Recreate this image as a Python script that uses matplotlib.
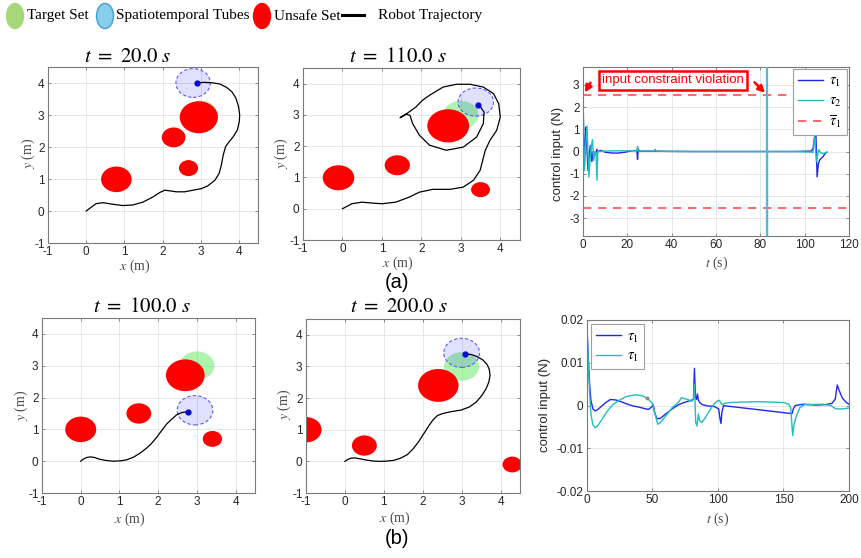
import matplotlib
matplotlib.use('Agg')
import matplotlib.pyplot as plt
from matplotlib.patches import Circle, Ellipse
from matplotlib.lines import Line2D

plt.rcParams['mathtext.fontset'] = 'stix'
plt.rcParams['font.family'] = ['Liberation Sans', 'DejaVu Sans']
plt.rcParams['axes.unicode_minus'] = False

W, H = 862, 558

# ---------------- data ----------------
target_x, target_y, target_r = 3.0, 3.0, 0.45

# (a) t = 20 s
a1_obs_x = [0.79, 2.29, 2.95, 2.68]
a1_obs_y = [0.99, 2.30, 2.93, 1.34]
a1_obs_r = [0.40, 0.31, 0.50, 0.25]
a1_tube = [2.80, 4.00, 0.45]
a1_robot = [2.89, 4.00]
a1_traj_x = [0.00, 0.26, 0.44, 0.70, 0.96, 1.23, 1.49, 1.75, 1.93, 2.06, 2.19, 2.36, 2.58, 2.80, 3.02, 3.19, 3.37,
             3.48, 3.54, 3.59, 3.65, 3.75, 3.85, 3.96, 4.01, 4.02, 3.99, 3.92, 3.82, 3.68, 3.50, 3.28, 3.06, 2.89]
a1_traj_y = [0.00, 0.23, 0.26, 0.21, 0.17, 0.19, 0.28, 0.44, 0.58, 0.65, 0.63, 0.60, 0.60, 0.65, 0.70, 0.79, 0.96,
             1.17, 1.43, 1.75, 2.01, 2.17, 2.32, 2.53, 2.80, 3.01, 3.27, 3.53, 3.72, 3.86, 3.97, 4.01, 4.02, 4.00]

# (a) t = 110 s
a2_obs_x = [-0.10, 1.39, 2.68, 3.50]
a2_obs_y = [0.99, 1.39, 2.65, 0.61]
a2_obs_r = [0.40, 0.32, 0.53, 0.24]
a2_tube = [3.38, 3.41, 0.45]
a2_robot = [3.44, 3.31]
a2_traj_x = [0.00, 0.24, 0.50, 0.75, 1.01, 1.35, 1.69, 1.95, 2.29, 2.72, 3.06, 3.32, 3.49, 3.62, 3.74, 3.91, 4.00,
             3.96, 3.83, 3.57, 3.23, 2.89, 2.55, 2.21, 2.03, 1.86, 1.65, 1.46, 1.61, 1.71, 1.78, 1.95, 2.21, 2.63,
             3.06, 3.40, 3.57, 3.59, 3.50, 3.44]
a2_traj_y = [0.00, 0.16, 0.21, 0.18, 0.16, 0.21, 0.37, 0.53, 0.62, 0.62, 0.69, 0.91, 1.23, 1.87, 2.19, 2.51, 2.93,
             3.36, 3.68, 3.89, 3.98, 3.98, 3.89, 3.63, 3.47, 3.25, 3.06, 2.91, 3.02, 2.99, 2.72, 2.35, 2.03, 1.87,
             1.97, 2.29, 2.72, 3.09, 3.25, 3.31]

# (b) t = 100 s
b1_obs_x = [0.00, 1.50, 2.70, 3.40]
b1_obs_y = [1.00, 1.50, 2.70, 0.70]
b1_obs_r = [0.40, 0.32, 0.50, 0.25]
b1_tube = [2.95, 1.60, 0.46]
b1_robot = [2.76, 1.55]
b1_traj_x = [0.00, 0.06, 0.15, 0.25, 0.36, 0.49, 0.67, 0.84, 1.02, 1.18, 1.36, 1.53, 1.70, 1.83, 1.96, 2.09, 2.22,
             2.35, 2.48, 2.61, 2.76]
b1_traj_y = [0.00, 0.06, 0.115, 0.135, 0.115, 0.06, 0.02, 0.00, 0.01, 0.04, 0.125, 0.25, 0.41, 0.56, 0.75, 0.96,
             1.17, 1.32, 1.46, 1.53, 1.55]

# (b) t = 200 s
b2_obs_x = [-1.00, 0.50, 2.40, 4.30]
b2_obs_y = [1.00, 0.50, 2.40, -0.10]
b2_obs_r = [0.40, 0.32, 0.52, 0.25]
b2_tube = [3.00, 3.43, 0.46]
b2_robot = [3.08, 3.40]
b2_traj_x = [0.00, 0.06, 0.15, 0.26, 0.39, 0.56, 0.73, 0.91, 1.08, 1.25, 1.43, 1.60, 1.75, 1.90, 2.03, 2.16, 2.27,
             2.38, 2.51, 2.72, 2.98, 3.20, 3.37, 3.52, 3.63, 3.70, 3.73, 3.71, 3.65, 3.54, 3.40, 3.24, 3.08]
b2_traj_y = [0.00, 0.05, 0.10, 0.11, 0.08, 0.04, 0.01, 0.00, 0.01, 0.03, 0.10, 0.21, 0.39, 0.63, 0.88, 1.13, 1.32,
             1.45, 1.51, 1.57, 1.62, 1.72, 1.87, 2.08, 2.30, 2.51, 2.72, 2.91, 3.07, 3.21, 3.31, 3.38, 3.40]

# control inputs, case (a)
tau_bar = 2.55
t1_a = [0, 0.3, 0.6, 1.0, 1.35, 1.8, 2.25, 2.8, 3.3, 4.0,
        4.6, 5.5, 6.3, 7.0, 8.0, 10, 13, 16, 19, 22,
        24.3, 24.6, 24.9, 25.3, 27, 35, 50, 70, 95, 103,
        103.8, 104.5, 105.0, 105.6, 106.2, 106.8, 107.5, 108.3, 109.2, 110]
tau1_a = [2.6, 0.8, -0.7, 0.5, 1.1, 0.1, -0.85, -0.2, 0.26, -0.45,
          0.0, -0.15, 0.1, 0.0, 0.05, -0.03, -0.07, -0.07, -0.03, 0.03,
          0.05, -0.35, 0.12, 0.02, 0.01, 0.01, 0.0, 0.0, 0.0, 0.02,
          0.15, 0.7, 1.06, -1.14, -0.55, -0.38, -0.3, -0.23, -0.1, -0.03]
t2_a = [0, 0.3, 0.65, 1.2, 1.8, 2.3, 2.7, 3.3, 3.8, 4.3,
        4.8, 5.4, 5.9, 6.3, 6.7, 7.5, 10, 15, 20, 24.3,
        24.6, 24.9, 26, 32.2, 32.5, 32.8, 40, 60, 82.9, 83.0,
        83.1, 83.2, 95, 103, 103.8, 104.5, 105.3, 106.3, 107.2, 108.3,
        110]
tau2_a = [2.6, 0.5, -0.85, 0.3, 1.15, -0.2, -1.15, -0.2, 0.3, 0.53,
          -0.4, 0.0, -0.05, -1.3, 0.05, 0.0, 0.02, 0.03, 0.03, 0.03,
          0.23, 0.02, 0.02, 0.02, 0.1, 0.02, 0.0, 0.0, 0.0, 40,
          -40, 0.0, 0.0, -0.03, -0.05, 0.68, -0.45, 0.08, -0.05, -0.1,
          -0.03]

# control inputs, case (b)
t1_b = [0, 1, 2, 3, 4.5, 6.3, 8, 11, 14, 17.8,
        22, 26, 30, 35, 40, 45, 47, 49.5, 50.5, 51.5,
        53.3, 56, 60, 65, 70, 75, 80.5, 81.3, 82, 82.8,
        83.5, 84.3, 85, 86, 88, 92, 97, 100.5, 101.5, 102.3,
        103, 104.3, 106, 156.5, 157.5, 159, 165, 175, 182, 187,
        189.5, 191, 192.5, 195, 198, 200]
tau1_b = [0.018, 0.011, 0.005, 0.0012, -0.0008, -0.00125, -0.001, -0.0002, 0.0006, 0.0014,
          0.0013, 0.0009, 0.0004, -0.0001, -0.0004, -0.0008, -0.0009, -0.0003, 0.0002, -0.0015,
          -0.0031, -0.003, -0.002, -0.0008, 0.0002, 0.0008, 0.0013, 0.0014, 0.0087, 0.002,
          0.0014, 0.0027, 0.0013, 0.0007, 0.0002, -0.0001, -0.0002, -0.0008, -0.003, -0.0042,
          -0.0015, 0.0, -0.0001, -0.0019, -0.0008, 0.0, 0.0003, 0.0001, 0.0002, 0.0005,
          0.0015, 0.0048, 0.0035, 0.0017, 0.0007, 0.0003]
t2_b = [0, 1, 2, 3, 4.5, 6.3, 8, 11, 15, 20,
        25, 30, 37, 42, 46, 49, 50.5, 52, 54, 56,
        60, 65, 70, 72, 76, 80, 81.3, 82, 83, 84,
        85, 86, 87.5, 90, 95, 98, 100, 101, 103, 105,
        110, 130, 150, 154, 155.5, 157, 158, 160, 162.5, 166,
        180, 186, 190, 195, 200]
tau2_b = [0.018, 0.01, 0.003, -0.002, -0.0045, -0.0052, -0.0048, -0.0035, -0.0015, 0.0003,
          0.0013, 0.0021, 0.0025, 0.0023, 0.0017, 0.0008, 0.0003, -0.002, -0.0044, -0.004,
          -0.0025, -0.0005, 0.0008, 0.0018, 0.0015, 0.001, 0.0015, 0.005, -0.004, -0.0048,
          -0.002, -0.0035, -0.004, -0.003, -0.0005, 0.0007, 0.0011, 0.0012, 0.0002, 0.0005,
          0.0007, 0.0009, 0.0007, 0.0003, -0.0005, -0.007, -0.0045, -0.0023, -0.0005, 0.0002,
          0.0003, 0.0, -0.0008, -0.0008, -0.0006]

BLUE = '#1f28f0'
CYAN = '#22bdbd'
SPINE = '#7a7a7a'
TICK_TXT = '#262626'
LABEL = '#4a4a4a'


def fig_rect(left, top, right, bottom):
    return [left / W, 1 - bottom / H, (right - left) / W, (bottom - top) / H]


def ftext(px, py, s, **kw):
    fig.text(px / W, 1 - py / H, s, ha='center', va='center', **kw)


def style_axes(ax):
    ax.grid(True, color='#e3e3e3', lw=0.6)
    ax.set_axisbelow(True)
    for sp in ax.spines.values():
        sp.set_color(SPINE)
        sp.set_linewidth(0.8)
    ax.tick_params(direction='in', top=True, right=True, length=2.5, width=0.6, color=SPINE,
                   labelsize=8.5, labelcolor=TICK_TXT, pad=2.5)


def draw_scene(ax, obs_x, obs_y, obs_r, tube, robot, traj_x, traj_y):
    ax.add_patch(Circle((target_x, target_y), target_r, facecolor=(0.3, 0.9, 0.3), alpha=0.45,
                        edgecolor='none', zorder=1))
    for cx, cy, r in zip(obs_x, obs_y, obs_r):
        ax.add_patch(Circle((cx, cy), r, facecolor='#ff0000', edgecolor='none', zorder=2))
    ax.add_patch(Circle((tube[0], tube[1]), tube[2], facecolor=(0, 0, 1, 0.12),
                        edgecolor='#5a5aff', lw=0.8, ls=(0, (3, 2)), zorder=3))
    ax.plot(traj_x, traj_y, color='black', lw=0.9, zorder=4)
    ax.plot(robot[0], robot[1], 'o', color='#0a0acc', ms=3.5, zorder=5)
    ax.set_xlim(-1, 4.5)
    ax.set_ylim(-1, 4.5)
    ax.set_xticks(range(-1, 5))
    ax.set_yticks(range(-1, 5))
    style_axes(ax)


fig = plt.figure(figsize=(W / 100, H / 100), dpi=100)

scenes = [
    (fig_rect(48, 67, 258, 243), a1_obs_x, a1_obs_y, a1_obs_r, a1_tube, a1_robot, a1_traj_x, a1_traj_y,
     r'$t\ =\ 20.0\ s$', (128, 57), (28, 153), (135, 266)),
    (fig_rect(303, 68, 520, 240), a2_obs_x, a2_obs_y, a2_obs_r, a2_tube, a2_robot, a2_traj_x, a2_traj_y,
     r'$t\ =\ 110.0\ s$', (398, 57), (281, 153), (398, 263)),
    (fig_rect(42, 318, 255, 493), b1_obs_x, b1_obs_y, b1_obs_r, b1_tube, b1_robot, b1_traj_x, b1_traj_y,
     r'$t\ =\ 100.0\ s$', (142, 306), (21, 405), (130, 519)),
    (fig_rect(306, 319, 520, 493), b2_obs_x, b2_obs_y, b2_obs_r, b2_tube, b2_robot, b2_traj_x, b2_traj_y,
     r'$t\ =\ 200.0\ s$', (399, 306), (284, 404), (395, 518)),
]
for rect, ox, oy, orr, tube, robot, tx, ty, title, tpos, ypos, xpos in scenes:
    ax = fig.add_axes(rect)
    draw_scene(ax, ox, oy, orr, tube, robot, tx, ty)
    ftext(tpos[0], tpos[1], title, fontsize=15)
    ftext(ypos[0], ypos[1], r'$y$ (m)', rotation=90, fontsize=10, color=LABEL, family='Liberation Serif')
    ftext(xpos[0], xpos[1], r'$x$ (m)', fontsize=10, color=LABEL, family='Liberation Serif')

# ---- control input (a) ----
ax3 = fig.add_axes(fig_rect(583, 67, 849, 236))
ax3.plot(t1_a, tau1_a, color=BLUE, lw=1.0, label=r'$\tau_1$')
ax3.plot(t2_a, tau2_a, color=CYAN, lw=1.0, label=r'$\tau_2$')
ax3.axhline(tau_bar, color='#ff4d4d', lw=1.2, ls=(0, (5, 4)), label=r'$\overline{\tau}_1$')
ax3.axhline(-tau_bar, color='#ff4d4d', lw=1.2, ls=(0, (5, 4)))
ax3.axvline(83.0, color='#5ab4d4', lw=1.6, zorder=3)
ax3.set_xlim(0, 120)
ax3.set_ylim(-3.8, 3.8)
ax3.set_xticks(range(0, 121, 20))
ax3.set_yticks(range(-3, 4))
style_axes(ax3)
leg = ax3.legend(loc='upper right', fontsize=10.5, handlelength=1.7, handletextpad=0.4, borderpad=0.35,
                 labelspacing=0.3, borderaxespad=0.15, fancybox=False, edgecolor='#a0a0a0', framealpha=1)
leg.get_frame().set_linewidth(0.8)

ax3.annotate('', xy=(0.2, tau_bar), xytext=(4.0, 3.2),
             arrowprops=dict(arrowstyle='-|>', color='#ff0000', lw=1.8, mutation_scale=10))
ax3.annotate('', xy=(83, tau_bar), xytext=(76.5, 3.2),
             arrowprops=dict(arrowstyle='-|>', color='#ff0000', lw=1.8, mutation_scale=10))
ax3.text(40.5, 3.2, 'input constraint violation', color='#ff0000', fontsize=9.5, ha='center', va='center',
         bbox=dict(boxstyle='square,pad=0.25', facecolor='white', edgecolor='#ff0000', lw=1.8))
ftext(558, 154, 'control input (N)', rotation=90, fontsize=9.5, color=TICK_TXT)
ftext(717, 263, r'$t$ (s)', fontsize=10, color=LABEL, family='Liberation Serif')

# ---- control input (b) ----
ax6 = fig.add_axes(fig_rect(587, 320, 849, 491))
ax6.plot(t1_b, tau1_b, color=BLUE, lw=1.0, label=r'$\tau_1$')
ax6.plot(t2_b, tau2_b, color=CYAN, lw=1.0, label=r'$\tau_1$')
ax6.plot(46, 0.0018, 'o', color='#888888', ms=1.8)
ax6.set_xlim(0, 200)
ax6.set_ylim(-0.02, 0.02)
ax6.set_xticks([0, 50, 100, 150, 200])
ax6.set_yticks([-0.02, -0.01, 0, 0.01, 0.02])
ax6.set_yticklabels(['-0.02', '-0.01', '0', '0.01', '0.02'])
style_axes(ax6)
leg = ax6.legend(loc='upper left', fontsize=10.5, handlelength=1.7, handletextpad=0.4, borderpad=0.35,
                 labelspacing=0.3, borderaxespad=0.3, fancybox=False, edgecolor='#a0a0a0', framealpha=1)
leg.get_frame().set_linewidth(0.8)
ftext(545, 405, 'control input (N)', rotation=90, fontsize=9.5, color=TICK_TXT)
ftext(718, 519, r'$t$ (s)', fontsize=10, color=LABEL, family='Liberation Serif')

# ---- panel tags ----
ftext(397, 282, '(a)', fontsize=14.5)
ftext(397, 539, '(b)', fontsize=14.5)

# ---- top legend ----
legend_items = [
    ('Target Set', (15, 16), '#a8d87c', '#a8d87c', 27),
    ('Spatiotemporal Tubes', (105, 16), '#87ceeb', '#3f9fd8', 116),
    ('Unsafe Set', (262, 16), '#ff0000', '#ff0000', 274),
]
for label, (cx, cy), fc, ec, tx in legend_items:
    fig.add_artist(Ellipse((cx / W, 1 - cy / H), 17 / W, 25 / H, transform=fig.transFigure,
                           facecolor=fc, edgecolor=ec, lw=1.0))
    fig.text(tx / W, 1 - 16 / H, label, ha='left', va='center', fontsize=11, family='Liberation Serif')
fig.add_artist(Line2D([342 / W, 364 / W], [1 - 15 / H, 1 - 15 / H], transform=fig.transFigure,
                      color='black', lw=2.2))
fig.text(378 / W, 1 - 16 / H, 'Robot Trajectory', ha='left', va='center', fontsize=11,
         family='Liberation Serif')

fig.savefig('out.png', dpi=100)
